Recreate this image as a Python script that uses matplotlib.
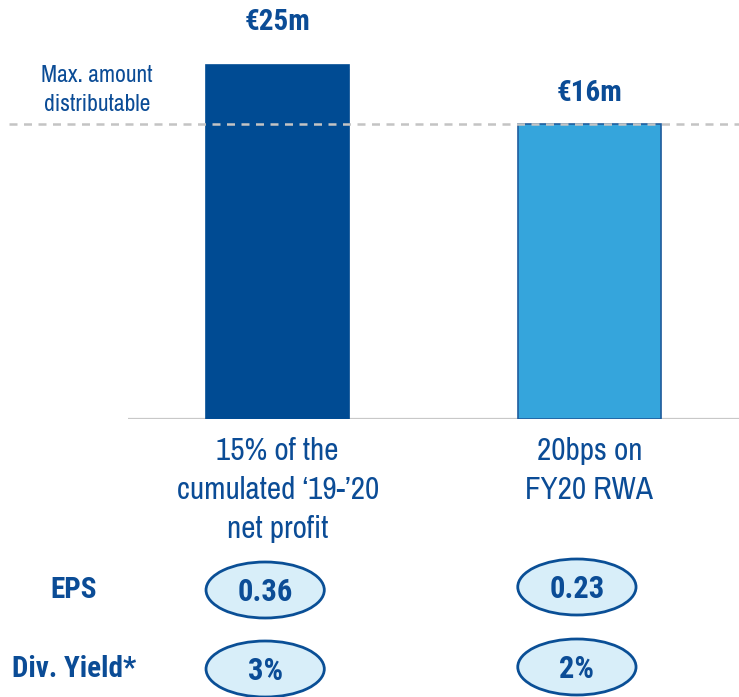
import matplotlib
matplotlib.use("Agg")
import matplotlib.pyplot as plt
from matplotlib import transforms
from matplotlib.patches import Ellipse
import matplotlib.patheffects as pe

# ---- data ----
categories = ["15% of the\ncumulated \u201819-\u201920\nnet profit", "20bps on\nFY20 RWA"]
amounts = [25, 16]                      # EUR m
amount_labels = ["\u20ac25m", "\u20ac16m"]
eps = ["0.36", "0.23"]
div_yield = ["3%", "2%"]
row_labels = ["EPS", "Div. Yield*"]
threshold_label = "Max. amount\ndistributable"

# ---- fonts ----
REG = ["Archivo Narrow", "Roboto Condensed", "Liberation Sans", "DejaVu Sans"]
BOLD = ["Roboto Condensed", "Liberation Sans", "DejaVu Sans"]
plt.rcParams["font.family"] = REG

DARK = "#004b93"
LIGHT = "#35a5dc"
TEXT = "#0b4c96"
PILL_FILL = "#d8eef9"

W, H = 739, 697
fig = plt.figure(figsize=(W / 100, H / 100), dpi=100)

# main bar axes: baseline sits at pixel row 419
floor = -29
ax = fig.add_axes([128 / W, 1 - 419 / H, 1 - 128 / W, 419 / H])
ax.set_xlim(-0.48, 1.48)
ax.set_ylim(floor, floor + 419 / 6.556)
ax.axis("off")
ax.axhline(floor, color="#c8c8c8", lw=1.6, zorder=1)

x = [0, 1]
colors = [DARK, LIGHT]
edges = [DARK, "#1f5d9e"]
shadow = [pe.SimplePatchShadow(offset=(1, -3), shadow_rgbFace="#999999", alpha=0.25), pe.Normal()]
for i, (v, c, ec) in enumerate(zip(amounts, colors, edges)):
    ax.bar(x[i], v - floor, bottom=floor, width=0.457, color=c, edgecolor=ec,
           linewidth=1.2, zorder=2, path_effects=shadow)

# value labels above the bars
label_offsets = [43, 31]  # pixels above the bar top
for i, (v, t) in enumerate(zip(amounts, amount_labels)):
    ax.annotate(t, (x[i], v), xytext=(0, label_offsets[i]), textcoords="offset pixels",
                ha="center", va="center", fontsize=21, fontweight="bold",
                family=BOLD, color=TEXT)

# threshold line at the smaller amount
thr = min(amounts)
ax.plot([-0.862, 1.48], [thr, thr], ls=(0, (3.2, 2.6)), color="#c4c4c4", lw=1.8,
        clip_on=False, zorder=3)
ax.annotate(threshold_label, (-0.862, thr), xytext=(88, 34), textcoords="offset pixels",
            ha="center", va="center", fontsize=17, color=TEXT, linespacing=1.45,
            annotation_clip=False)

# category labels under the bars
for i, t in enumerate(categories):
    ax.annotate(t, (x[i], floor), xytext=(0, -18), textcoords="offset pixels",
                ha="center", va="top", fontsize=22.5, color=TEXT, linespacing=1.48,
                annotation_clip=False)

# overlay in pixel rows for the metric rows
ov = fig.add_axes([0, 0, 1, 1])
ov.set_xlim(0, W)
ov.set_ylim(H, 0)
ov.axis("off")
tr = transforms.blended_transform_factory(ax.transData, ov.transData)

rows = [eps, div_yield]
row_y = [[590, 587], [669, 667]]
for r, (name, vals) in enumerate(zip(row_labels, rows)):
    ov.text(74, row_y[r][0], name, ha="center", va="center", fontsize=21,
            fontweight="bold", family=BOLD, color=TEXT)
    for i, val in enumerate(vals):
        cx = x[i] - 0.04
        cy = row_y[r][i]
        ov.add_patch(Ellipse((cx, cy), width=118 / 311, height=56, transform=tr,
                             facecolor=PILL_FILL, edgecolor="#0a4f96", lw=2.0,
                             clip_on=False))
        ov.text(cx, cy + 2, val, transform=tr, ha="center", va="center", fontsize=22,
                fontweight="bold", family=BOLD, color=TEXT)

fig.savefig("out.png", dpi=100)
